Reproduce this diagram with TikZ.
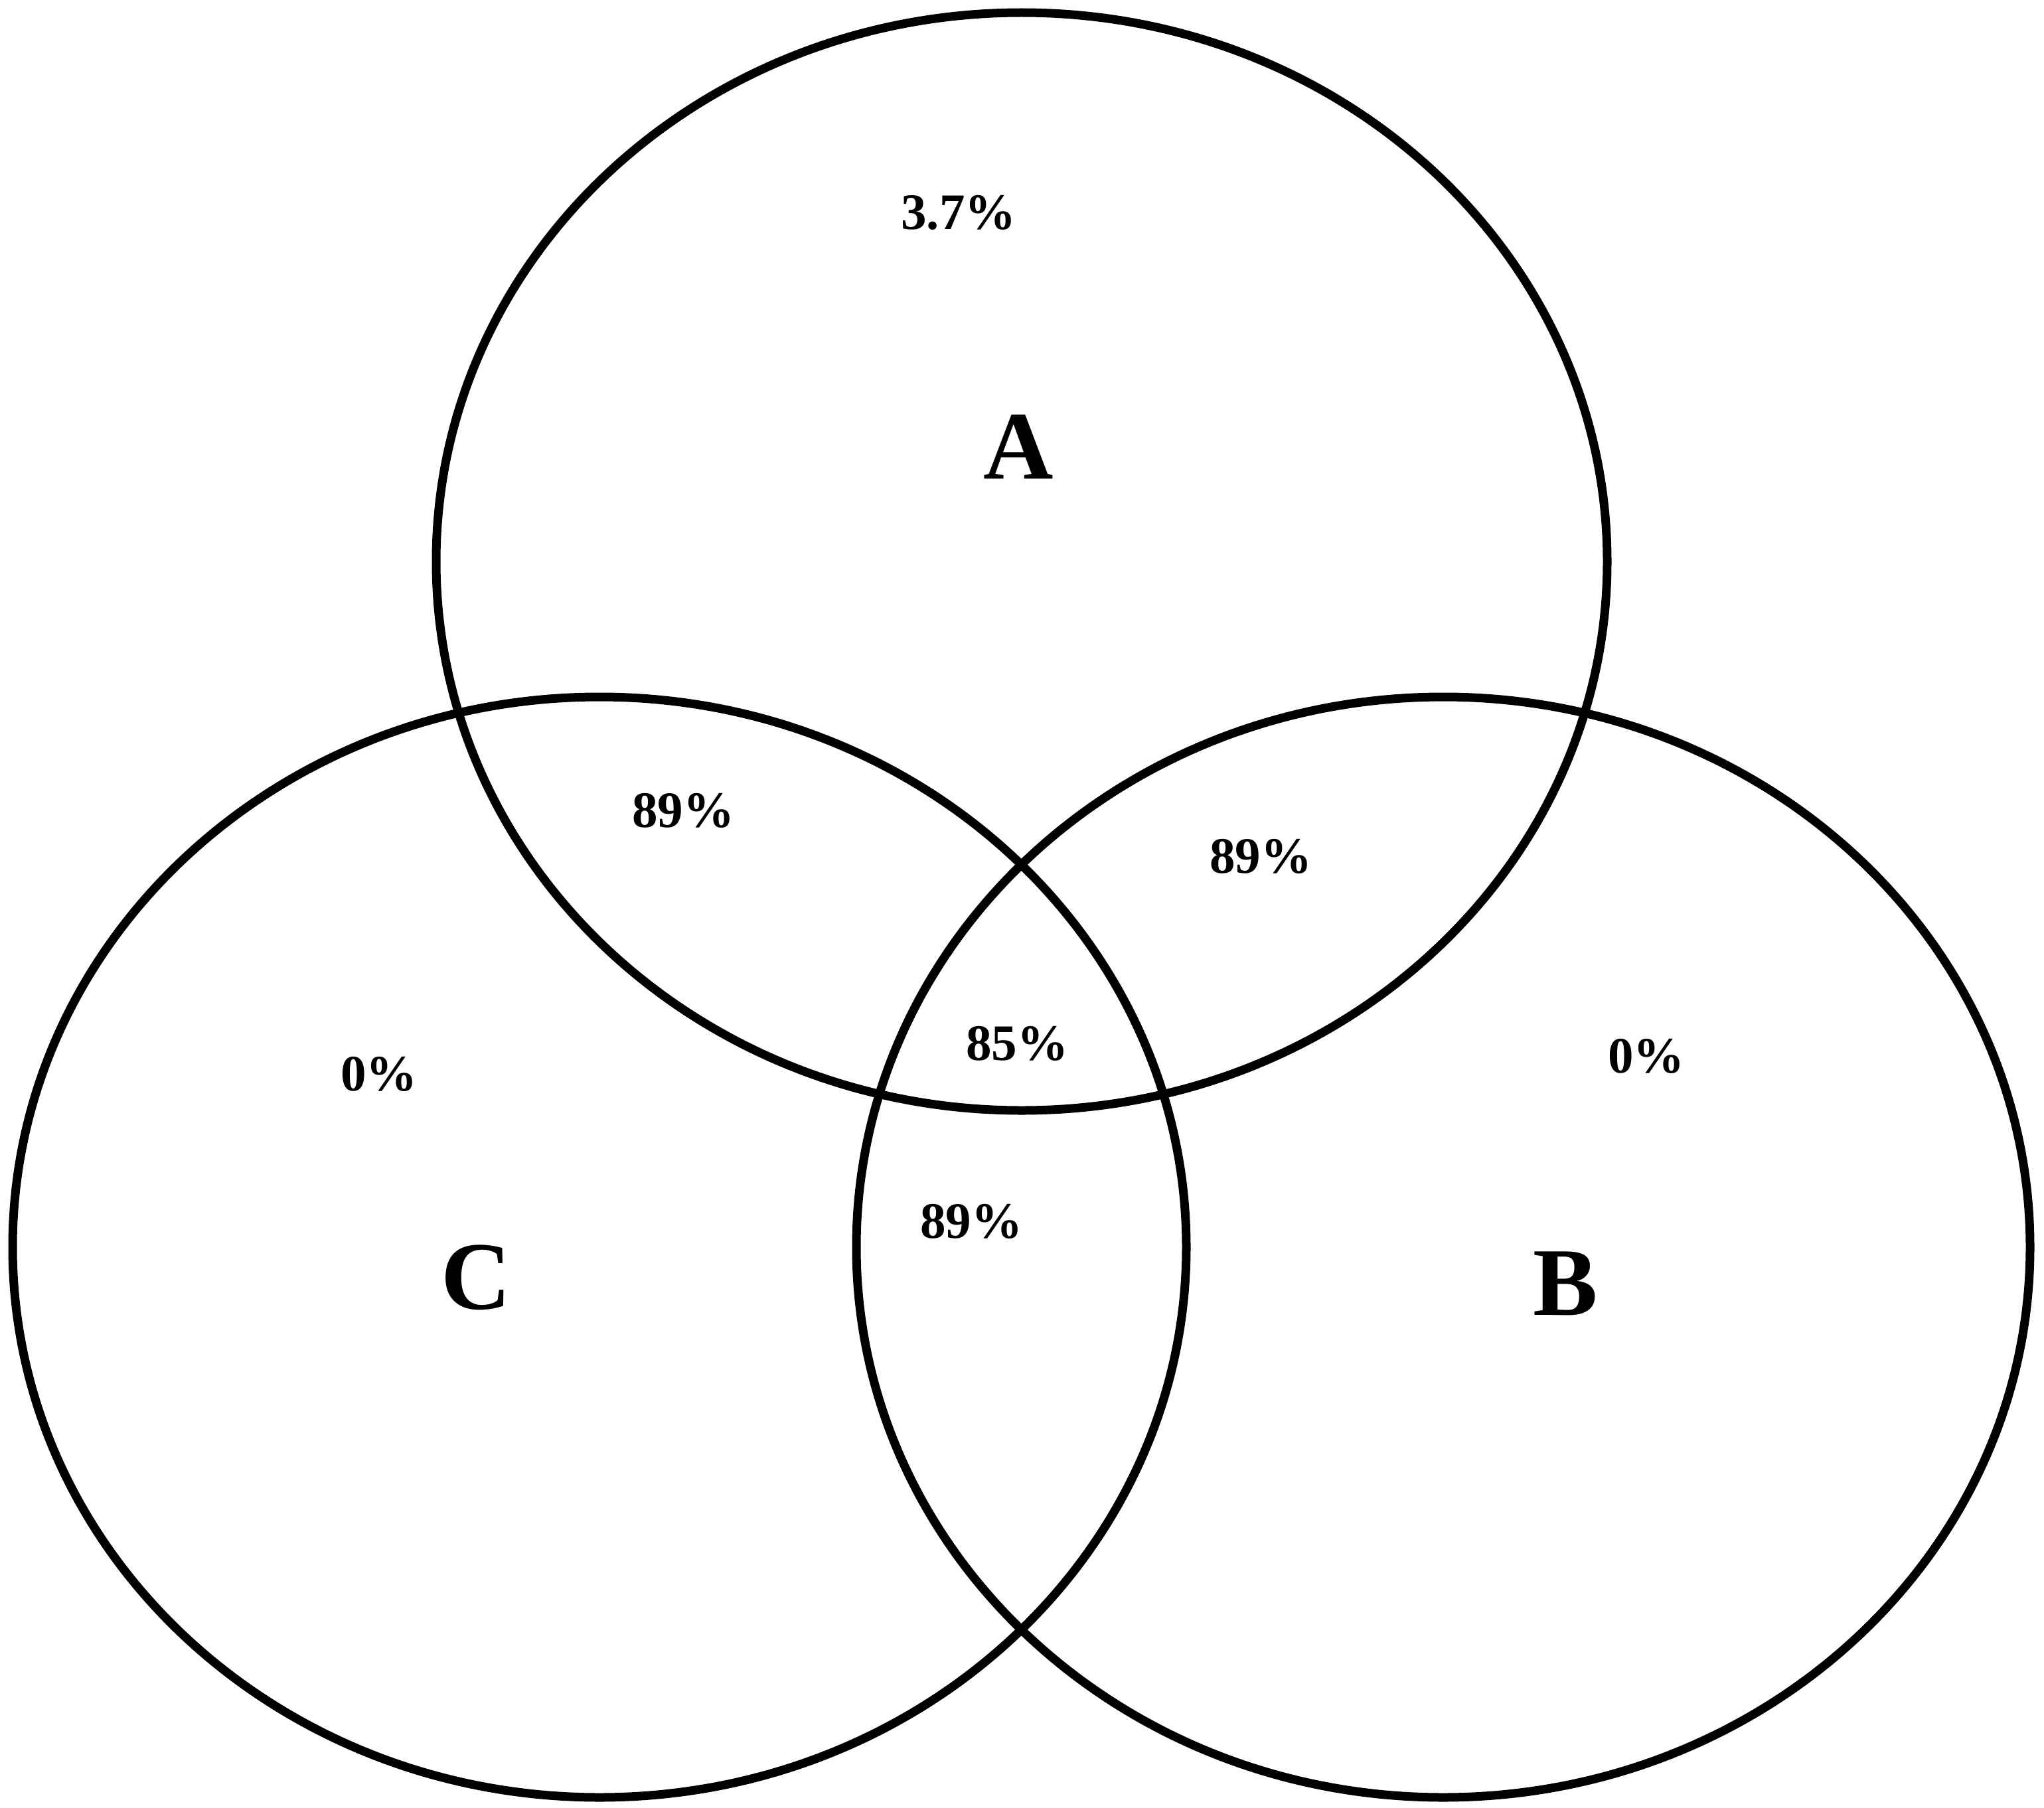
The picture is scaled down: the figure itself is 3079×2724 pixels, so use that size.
\documentclass[tikz,border=0pt]{standalone}
\usepackage{fontspec}
\setmainfont{Liberation Serif}
\usepackage{tikz}

\begin{document}
\begin{tikzpicture}[x=1pt,y=-1pt,
  ring/.style={draw,line width=13pt},
  pct/.style={font=\fontsize{77}{80}\selectfont\bfseries,inner sep=0pt},
  setlab/.style={font=\fontsize{146}{150}\selectfont\bfseries,inner sep=0pt}]
\useasboundingbox (0,0) rectangle (3079,2724);
\coordinate (cA) at (1539,846);
\coordinate (cC) at (903,1879);
\coordinate (cB) at (2174,1879);
\draw[ring] (cA) ellipse [x radius=882,y radius=827];
\draw[ring] (cC) ellipse [x radius=884,y radius=829];
\draw[ring] (cB) ellipse [x radius=884,y radius=829];
\node[setlab] (lA) at (1534,673) {A};
\node[setlab] (lC) at (717,1925) {C};
\node[setlab] (lB) at (2358,1934) {B};
\node[pct] (onlyA) at (1444,320) {3.7\%};
\node[pct] (AC) at (1029,1221) {89\%};
\node[pct] (AB) at (1899,1290) {89\%};
\node[pct] (ABC) at (1532,1572) {85\%};
\node[pct] (onlyC) at (571,1618) {0\%};
\node[pct] (onlyB) at (2480,1591) {0\%};
\node[pct] (BC) at (1463,1840) {89\%};
\end{tikzpicture}
\end{document}
